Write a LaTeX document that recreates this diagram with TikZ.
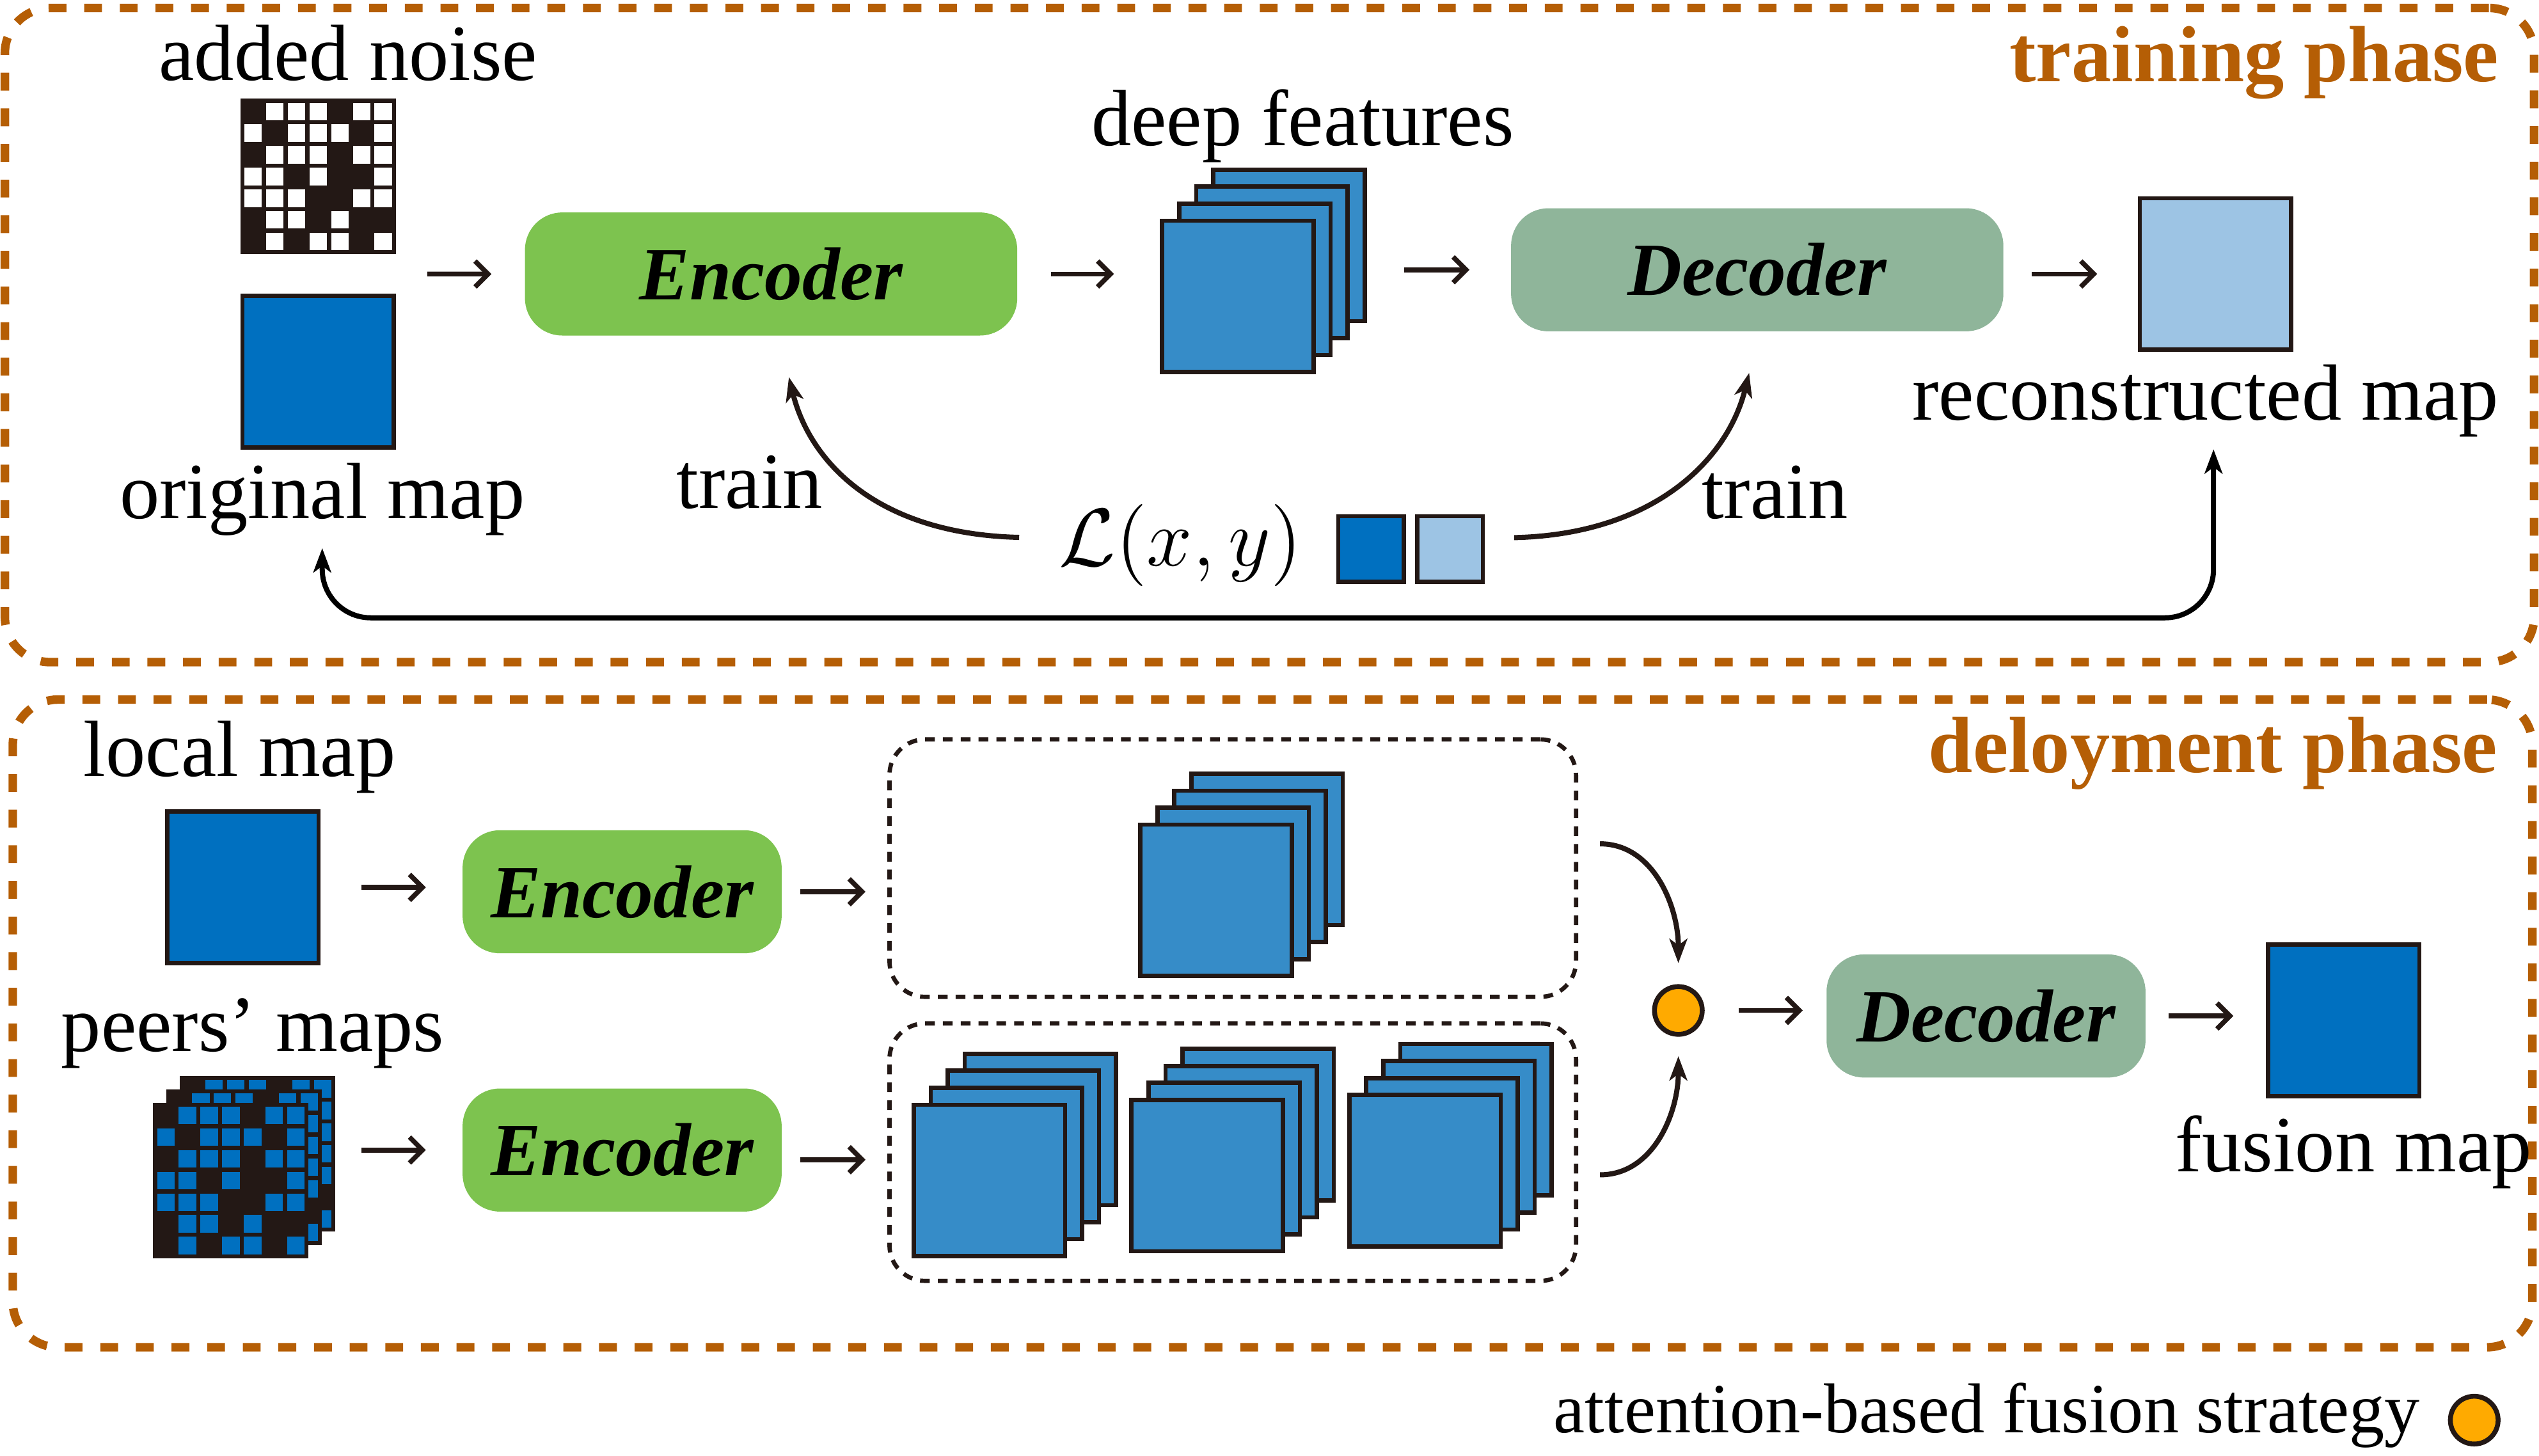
\documentclass[tikz,border=0pt]{standalone}
\usepackage{fontspec}
\setmainfont{Liberation Serif}
\usetikzlibrary{positioning,arrows.meta,calc}

\definecolor{inkblack}{RGB}{35,24,21}
\definecolor{mapblue}{RGB}{0,112,192}
\definecolor{featblue}{RGB}{54,140,200}
\definecolor{reconblue}{RGB}{157,196,228}
\definecolor{encgreen}{RGB}{125,195,79}
\definecolor{decgreen}{RGB}{143,181,154}
\definecolor{phasebrown}{RGB}{181,94,5}
\definecolor{fuseorange}{RGB}{255,170,0}

% four stacked feature maps: front centre x, y, name of the front map
\newcommand{\featstack}[3]{%
  \node[feat] (#3b) at (#1+31.5,#2-31.5) {};
  \node[feat] at (#1+21,#2-21) {};
  \node[feat] at (#1+10.5,#2-10.5) {};
  \node[feat] (#3) at (#1,#2) {};}

% 7x7 noisy map: centre x, y, cell colour, name
\newcommand{\noisemap}[4]{%
  \node[noisebox] (#4) at (#1,#2) {};
  \foreach \r/\cs in {0/{1,2,3,5,6},1/{0,2,3,4,6},2/{1,2,3,5,6},3/{0,1,3,6},4/{0,1,2,5,6},5/{1,2,4},6/{1,3,4,6}}
    \foreach \c in \cs
      \fill[#3] (#1+13.4*\c-45.6,#2+13.4*\r-45.6) rectangle ++(10.8,10.8);}

\begin{document}
\begin{tikzpicture}[
  x=0.1mm, y=-0.1mm,
  font=\fontsize{14}{17}\selectfont,
  mapbox/.style={draw=inkblack, line width=0.75pt, fill=mapblue, minimum size=9.35mm, inner sep=0},
  feat/.style={mapbox, fill=featblue},
  noisebox/.style={fill=inkblack, minimum size=9.6mm, inner sep=0},
  block/.style={rounded corners=2.3mm, minimum height=7.6mm, inner sep=0, font=\fontsize{13.2}{15}\selectfont\bfseries\itshape},
  enc/.style={block, fill=encgreen, minimum width=30.4mm},
  dec/.style={block, fill=decgreen, minimum width=30.4mm},
  lab/.style={inner sep=0},
  phase/.style={inner sep=0, anchor=base east, text=phasebrown, font=\fontsize{14}{17}\selectfont\bfseries},
  frame/.style={draw=phasebrown, line width=1.5pt, dash pattern=on 1.1mm off 1.1mm, rounded corners=2.8mm},
  grp/.style={draw=inkblack, line width=0.75pt, dash pattern=on 0.6mm off 0.5mm, rounded corners=2.2mm},
  fusedot/.style={circle, draw=inkblack, line width=0.85pt, fill=fuseorange, minimum size=2.95mm, inner sep=0},
  arr/.style={-{Straight Barb[length=0.8mm,width=1.6mm]}, line width=0.85pt, draw=inkblack},
  curv/.style={-{Stealth[length=1.5mm,width=1.1mm,inset=0.4mm]}, line width=0.9pt, draw=inkblack},
  both/.style={{Stealth[length=1.5mm,width=1.1mm,inset=0.4mm]}-{Stealth[length=1.5mm,width=1.1mm,inset=0.4mm]}, line width=0.9pt}
]
\useasboundingbox (0,0) rectangle (1568,899);

% ---------------- frames ----------------
\node[frame, minimum width=156.2mm, minimum height=40.4mm] (trainfr) at (784,206.9) {};
\node[frame, minimum width=155.6mm, minimum height=40mm] (deployfr) at (785.9,632) {};
\node[phase] (trainph) at (1543.9,50.3) {training phase};
\node[phase] (deployph) at (1543,477) {deloyment phase};

% ---------------- training phase ----------------
\noisemap{196.5}{109}{white}{noise}
\node[mapbox] (orig) at (196.5,229.5) {};
\node[lab, above=0.97mm of noise, xshift=1.85mm] (noiselbl) {added noise};
\node[lab, anchor=base] (origlbl) at (199,320.2) {original map};

\node[enc] (enc) at (476.2,169.2) {Encoder};
\featstack{764.5}{183}{deep}
\node[lab, anchor=base] (deeplbl) at (804.5,90) {deep features};
\node[dec] (dec) at (1085.2,166.6) {Decoder};
\node[mapbox, fill=reconblue] (recon) at (1368.2,169.2) {};
\node[lab, anchor=base] (reconlbl) at (1362,259.3) {reconstructed map};

\draw[arr, shorten <=1.9mm, shorten >=2mm] ($(noise.east)!0.5!(orig.east)$) -- (enc.west);
\draw[arr, shorten <=2mm, shorten >=2.85mm] (enc.east) -- (deep.west |- enc.east);
\draw[arr, shorten <=2.3mm, shorten >=2.5mm] (deepb.east |- dec.west) -- (dec.west);
\draw[arr, shorten <=1.7mm, shorten >=2.5mm] (dec.east |- recon) -- (recon.west);

% loss and train arcs
\node[lab, anchor=base] (loss) at (729,349.5) {$\mathcal{L}(x,y)$};
\node[mapbox, minimum size=4.05mm] (lossx) at (846.7,339) {};
\node[mapbox, minimum size=4.05mm, fill=reconblue] (lossy) at (895.5,339) {};
\node[lab, anchor=base] (trainl) at (463,314) {train};
\node[lab, anchor=base] (trainr) at (1096,320) {train};

\draw[curv] ([xshift=-2.4mm,yshift=0.5mm]loss.west)
   .. controls +(-8.7mm,0.2mm) and +(1.3mm,-5.3mm) .. ([xshift=1.1mm,yshift=-2.5mm]enc.south);
\draw[curv] ([xshift=1.8mm,yshift=0.7mm]lossy.east)
   .. controls +(8.7mm,0.2mm) and +(-1.3mm,-5.3mm) .. ([xshift=-0.5mm,yshift=-2.5mm]dec.south);

% loop between original and reconstructed map
\draw[both, rounded corners=3mm, shorten <=0.7mm, shorten >=0.7mm]
   (origlbl.south) -- ++(0,-5mm) -| ([xshift=0.5mm]reconlbl.south);

% ---------------- deployment phase ----------------
\node[lab, anchor=base] (locallbl) at (148,479.2) {local map};
\node[mapbox] (local) at (150,548) {};
\node[lab, anchor=base] (peerslbl) at (156,649.2) {peers’ maps};
\noisemap{159}{712.6}{mapblue}{peersb}
\noisemap{150.8}{720.8}{mapblue}{peersm}
\noisemap{142.6}{729}{mapblue}{peers}

\node[enc, minimum width=19.7mm] (enca) at (384.2,550.7) {Encoder};
\node[enc, minimum width=19.7mm] (encb) at (384.2,710.2) {Encoder};

\node[grp, minimum width=42.4mm, minimum height=15.9mm] (upgrp) at (761.3,536.1) {};
\node[grp, minimum width=42.4mm, minimum height=15.9mm] (lowgrp) at (761.3,711.5) {};
\featstack{751}{556}{fa}
\featstack{611}{729}{fb}
\featstack{745.5}{726}{fc}
\featstack{880}{723}{fd}

\node[fusedot] (fuse) at (1036.5,624) {};
\node[dec, minimum width=19.7mm] (decb) at (1226.5,627.4) {Decoder};
\node[mapbox] (fmap) at (1447.3,630.1) {};
\node[lab, anchor=base] (fmaplbl) at (1453.6,723.7) {fusion map};

\draw[arr, shorten <=2.5mm, shorten >=2.2mm] (local) -- (enca.west |- local);
\draw[arr, shorten <=1.1mm, shorten >=1.35mm] (enca.east) -- (upgrp.west |- enca.east);
\draw[arr, shorten <=1.55mm, shorten >=2.2mm] (peersb.east |- encb) -- (encb.west);
\draw[arr, shorten <=1.1mm, shorten >=1.35mm] ([yshift=-0.6mm]encb.east) -- ([yshift=-0.6mm]encb.east -| lowgrp.west);
\draw[curv] ([xshift=1.35mm,yshift=1.5mm]upgrp.east)
   .. controls +(3.3mm,0) and +(0,3.5mm) .. ([yshift=1.3mm]fuse.north);
\draw[curv] ([xshift=1.35mm,yshift=-1.4mm]lowgrp.east)
   .. controls +(3.3mm,0) and +(0,-3.5mm) .. ([yshift=-1.2mm]fuse.south);
\draw[arr, shorten <=2.1mm, shorten >=1.4mm] (fuse) -- (fuse -| decb.west);
\draw[arr, shorten <=1.35mm, shorten >=2mm] (decb) -- (fmap.west |- decb);

% ---------------- legend ----------------
\node[lab, anchor=base, font=\fontsize{12.4}{15}\selectfont] (legtxt) at (1227,884.7) {attention-based fusion strategy};
\node[fusedot] (legdot) at (1528,877) {};

\end{tikzpicture}
\end{document}
